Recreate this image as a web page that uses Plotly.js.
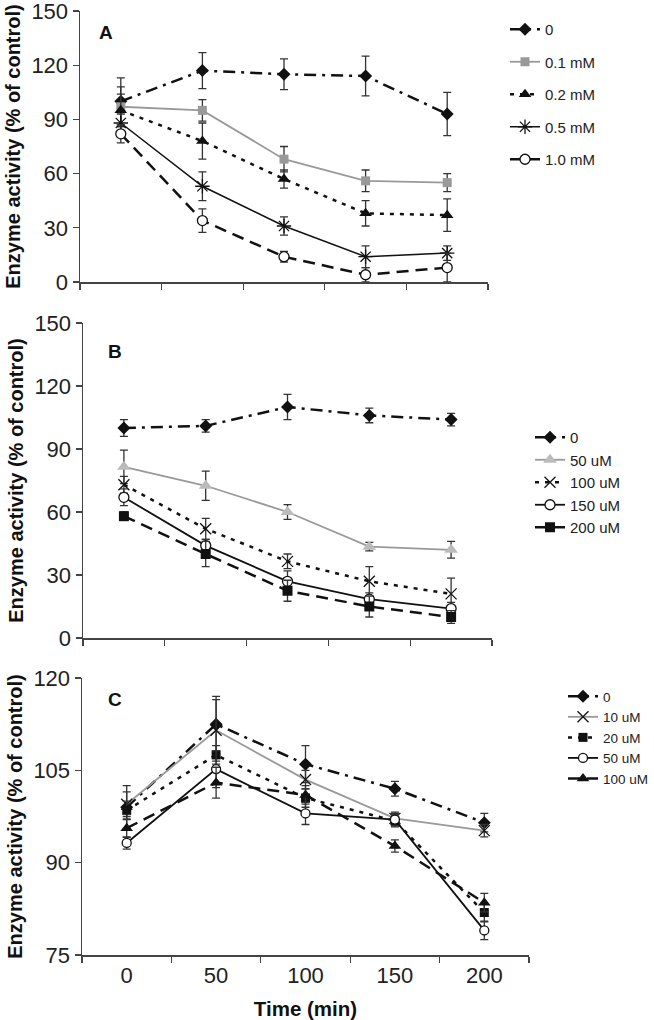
<!DOCTYPE html>
<html>
<head>
<meta charset="utf-8">
<script src="https://cdn.plot.ly/plotly-3.0.1.min.js"></script>
<style>html,body{margin:0;padding:0;background:#fff;overflow:hidden;width:654px;height:1020px;}#chart{width:720px;height:1020px;}</style>
</head>
<body>
<div id="chart"></div>
<script>
// Categories (time, min)
const times = ["0", "50", "100", "150", "200"];

// Panel A
const aNames = ["0", "0.1 mM", "0.2 mM", "0.5 mM", "1.0 mM"];
const aCtrl = [100, 117, 115, 114, 93];
const aCtrlErr = [13, 10, 8.5, 11, 12];
const a01 = [97, 95, 68, 56, 55];
const a01Err = [11, 6, 7, 6, 5];
const a02 = [95, 78, 57, 38, 37];
const a02Err = [9, 10, 5, 7, 9];
const a05 = [88, 53, 31, 14, 16];
const a05Err = [5, 8, 5, 6, 4];
const a10 = [82, 34, 14, 4, 8];
const a10Err = [5, 6.5, 3, 4, 8];

// Panel B
const bNames = ["0", "50 uM", "100 uM", "150 uM", "200 uM"];
const bCtrl = [100, 101, 110, 106, 104];
const bCtrlErr = [4, 3, 6, 3.5, 3];
const b50 = [81.5, 72.5, 60, 43.5, 42];
const b50Err = [8, 7, 3.5, 2, 4];
const b100 = [73, 52, 36.5, 27, 21];
const b100Err = [4, 5, 3.5, 7, 7.5];
const b150 = [67, 44, 27, 18.5, 14];
const b150Err = [4, 3, 5, 3, 3];
const b200 = [58, 40, 22.5, 15, 10];
const b200Err = [2, 6, 5, 5, 3];

// Panel C
const cNames = ["0", "10 uM", "20 uM", "50 uM", "100 uM"];
const cCtrl = [99, 112.5, 106, 102, 96.5];
const cCtrlErr = [3.5, 4.5, 3, 1.2, 1.5];
const c10 = [99.5, 111.5, 103.5, 97.2, 95.2];
const c10Err = [2, 5, 1.5, 1, 1];
const c20 = [98.5, 107.5, 100.5, 96.8, 81.9];
const c20Err = [1.5, 1.5, 1.5, 1, 1.5];
const c50 = [93.2, 105.2, 98, 97, 79];
const c50Err = [1, 3, 1.8, 1, 1.5];
const c100 = [95.6, 103, 101, 92.7, 83.5];
const c100Err = [1.5, 2.5, 1.5, 1, 1.5];

const DASHDOT = "12px,6px,3px,6px";
const DOT = "4px,6px";
const LONGDASH = "12px,7px";

function tr(name, y, err, ax, leg, line, marker) {
  return {
    type: "scatter", mode: "lines+markers", name: name,
    x: times, y: y,
    xaxis: "x" + ax, yaxis: "y" + ax,
    legend: leg, legendgroup: leg + name,
    line: line, marker: marker,
    error_y: {type: "data", array: err, visible: true, color: "#333", thickness: 1.3, width: 4}
  };
}
const ax1 = "", ax2 = "2", ax3 = "3";
const data = [
  tr(aNames[0], aCtrl, aCtrlErr, ax1, "legend", {color: "#111", width: 2.5, dash: DASHDOT}, {symbol: "diamond", size: 10, color: "#111"}),
  tr(aNames[1], a01, a01Err, ax1, "legend", {color: "#999", width: 1.8}, {symbol: "square", size: 9, color: "#999"}),
  tr(aNames[2], a02, a02Err, ax1, "legend", {color: "#111", width: 2.5, dash: DOT}, {symbol: "triangle-up", size: 11, color: "#111"}),
  tr(aNames[3], a05, a05Err, ax1, "legend", {color: "#111", width: 1.5}, {symbol: "asterisk-open", size: 12, color: "#111", line: {width: 1.3, color: "#111"}}),
  tr(aNames[4], a10, a10Err, ax1, "legend", {color: "#111", width: 2.5, dash: LONGDASH}, {symbol: "circle", size: 10, color: "#fff", line: {width: 1.3, color: "#111"}}),

  tr(bNames[0], bCtrl, bCtrlErr, ax2, "legend2", {color: "#111", width: 2.5, dash: DASHDOT}, {symbol: "diamond", size: 10, color: "#111"}),
  tr(bNames[1], b50, b50Err, ax2, "legend2", {color: "#999", width: 1.8}, {symbol: "triangle-up", size: 12, color: "#bbb"}),
  tr(bNames[2], b100, b100Err, ax2, "legend2", {color: "#111", width: 2.5, dash: DOT}, {symbol: "x-thin-open", size: 11, color: "#111", line: {width: 1.3, color: "#111"}}),
  tr(bNames[3], b150, b150Err, ax2, "legend2", {color: "#111", width: 1.8}, {symbol: "circle", size: 10, color: "#fff", line: {width: 1.3, color: "#111"}}),
  tr(bNames[4], b200, b200Err, ax2, "legend2", {color: "#111", width: 2.5, dash: LONGDASH}, {symbol: "square", size: 10, color: "#111"}),

  tr(cNames[0], cCtrl, cCtrlErr, ax3, "legend3", {color: "#111", width: 2.5, dash: DASHDOT}, {symbol: "diamond", size: 10, color: "#111"}),
  tr(cNames[1], c10, c10Err, ax3, "legend3", {color: "#999", width: 1.8}, {symbol: "x-thin-open", size: 11, color: "#111", line: {width: 1.3, color: "#111"}}),
  tr(cNames[2], c20, c20Err, ax3, "legend3", {color: "#111", width: 2.5, dash: DOT}, {symbol: "square", size: 9, color: "#111"}),
  tr(cNames[3], c50, c50Err, ax3, "legend3", {color: "#111", width: 1.8}, {symbol: "circle", size: 9, color: "#fff", line: {width: 1.3, color: "#111"}}),
  tr(cNames[4], c100, c100Err, ax3, "legend3", {color: "#111", width: 2.5, dash: LONGDASH}, {symbol: "triangle-up", size: 11, color: "#111"})
];

const FONT = "Liberation Sans, Arial, sans-serif";
const W = 720, H = 1020; // layout is drawn wider; the 654px window shows the left part
function xAx(l, r, showLabels, title) {
  const o = {
    domain: [l / W, r / W], type: "category", range: [-0.5, 4.5],
    showline: true, linecolor: "#444", linewidth: 1.5, mirror: false,
    ticks: "outside", ticklen: 6, tickwidth: 1.3, tickcolor: "#444", tickson: "boundaries",
    showgrid: false, zeroline: false, showticklabels: showLabels,
    tickfont: {family: FONT, size: 22, color: "#222"}, fixedrange: true
  };
  if (title) o.title = {text: title, font: {family: FONT, size: 20.5, color: "#111"}, standoff: 14};
  return o;
}
function yAx(top, bottom, range, dtick, anchor) {
  return {
    domain: [1 - bottom / H, 1 - top / H], range: range, dtick: dtick, tick0: range[0],
    anchor: anchor,
    showline: true, linecolor: "#444", linewidth: 1.5,
    ticks: "outside", ticklen: 6, tickwidth: 1.3, tickcolor: "#444",
    showgrid: false, zeroline: false, ticklabeloverflow: "allow",
    tickfont: {family: FONT, size: 22, color: "#222"},
    title: {text: "<b>Enzyme activity (% of control)</b>", font: {family: FONT, size: 20, color: "#111"}, standoff: 5},
    fixedrange: true
  };
}
const legBase = {
  font: {family: FONT, size: 15, color: "#222"},
  bgcolor: "rgba(0,0,0,0)", traceorder: "grouped", xanchor: "left", yanchor: "top"
};
function lbl(t, px, py) {
  return {text: "<b>" + t + "</b>", x: px / W, y: 1 - py / H, xref: "paper", yref: "paper",
    xanchor: "center", yanchor: "middle", showarrow: false, font: {family: FONT, size: 19, color: "#111"}};
}
const layout = {
  width: W, height: H,
  margin: {l: 0, r: 0, t: 0, b: 0},
  paper_bgcolor: "#fff", plot_bgcolor: "#fff",
  showlegend: true,
  font: {family: FONT, color: "#222"},
  xaxis: Object.assign(xAx(80, 488, false), {anchor: "y"}),
  yaxis: yAx(11, 282, [0, 150], 30, "x"),
  xaxis2: Object.assign(xAx(83, 492, false), {anchor: "y2"}),
  yaxis2: yAx(323, 638, [0, 150], 30, "x2"),
  xaxis3: Object.assign(xAx(82, 529, true, "<b>Time (min)</b>"), {anchor: "y3"}),
  yaxis3: yAx(678, 955, [75, 120], 15, "x3"),
  legend: Object.assign({}, legBase, {x: 505 / W, y: 1 - 13 / H, tracegroupgap: 10}),
  legend2: Object.assign({}, legBase, {x: 530 / W, y: 1 - 421 / H, tracegroupgap: 0}),
  legend3: Object.assign({}, legBase, {x: 563 / W, y: 1 - 681 / H, tracegroupgap: 0, font: {family: FONT, size: 13.5, color: "#222"}}),
  annotations: [lbl("A", 106, 33), lbl("B", 115, 351), lbl("C", 115, 699)]
};
Plotly.newPlot("chart", data, layout, {displayModeBar: false, staticPlot: true});
</script>
</body>
</html>
